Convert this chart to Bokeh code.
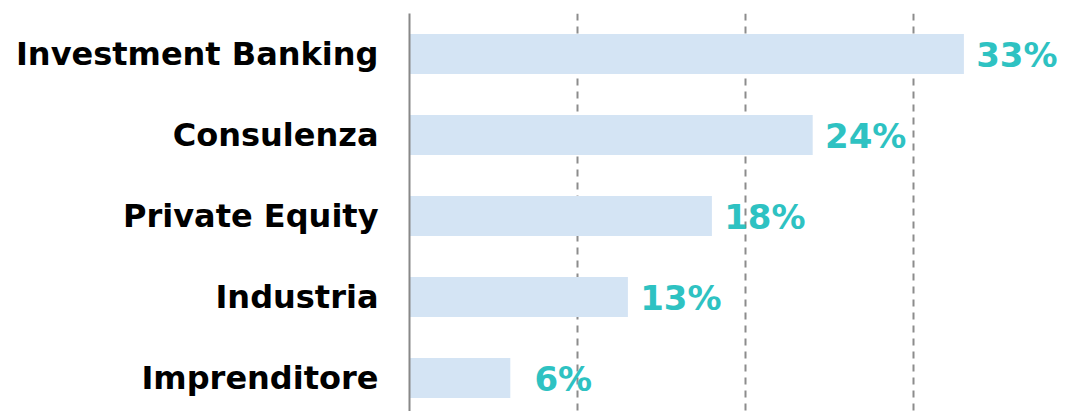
from bokeh.plotting import figure
from bokeh.models import Range1d, FixedTicker, ColumnDataSource
from bokeh.embed import file_html
from bokeh.resources import INLINE
from bokeh.core.properties import value

categories = ["Investment Banking", "Consulenza", "Private Equity", "Industria", "Imprenditore"]
values = [33, 24, 18, 13, 6]
labels = ["33%", "24%", "18%", "13%", "6%"]
grid_ticks = [10, 20, 30]

ypos = list(range(len(categories)))
src = ColumnDataSource(dict(y=ypos, v=values, lab=labels))

p = figure(width=1065, height=411, output_backend="svg", toolbar_location=None,
           x_range=Range1d(0, 656 / 16.8), y_range=Range1d(-0.5 + 398 / 81, -0.5),
           min_border_left=409, min_border_top=13, min_border_right=0, min_border_bottom=0)
p.outline_line_color = None
p.background_fill_color = "white"

p.hbar(y="y", right="v", left=0, height=40 / 81, source=src, fill_color="#D4E4F4", line_color=None)
p.text(x="v", y="y", text="lab", source=src, text_align="center", text_baseline="middle",
       x_offset=53, y_offset=1, text_font=value("DejaVu Sans"), text_font_style="bold",
       text_font_size="34px", text_color="#2EC2C2")

p.xaxis.visible = False
p.xgrid.ticker = FixedTicker(ticks=grid_ticks)
p.xgrid.grid_line_color = "#8c8c8c"
p.xgrid.grid_line_width = 2
p.xgrid.grid_line_dash = "7 6"
p.ygrid.visible = False

ya = p.yaxis[0]
ya.ticker = FixedTicker(ticks=ypos)
ya.major_label_overrides = {i: c for i, c in enumerate(categories)}
ya.major_tick_line_color = None
ya.minor_tick_line_color = None
ya.axis_line_color = "#888888"
ya.axis_line_width = 2
ya.major_label_standoff = 25
ya.major_label_text_font = "DejaVu Sans"
ya.major_label_text_font_style = "bold"
ya.major_label_text_font_size = "32px"
ya.major_label_text_color = "black"

open("out.html", "w").write(file_html(p, INLINE))
